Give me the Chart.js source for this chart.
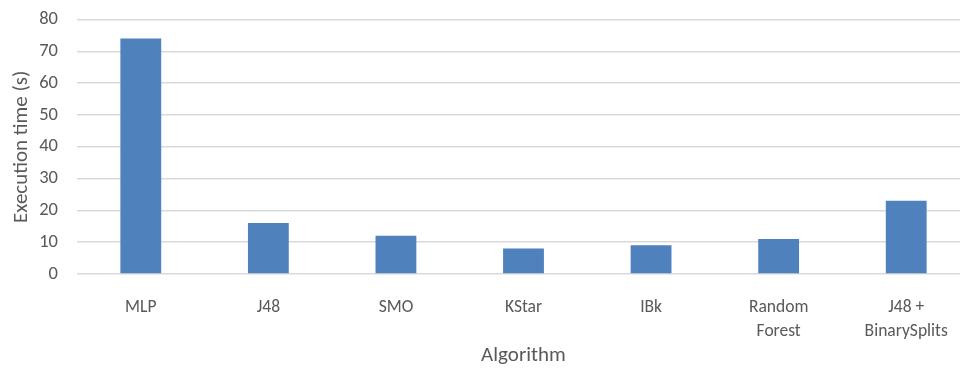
<!DOCTYPE html>
<html>
<head>
<meta charset="utf-8">
<script src="https://cdn.jsdelivr.net/npm/chart.js@4"></script>
<style>
  html, body { margin: 0; padding: 0; background: #fff; overflow: hidden; }
  #wrap { width: 980px; height: 368px; }
</style>
</head>
<body>
<div id="wrap"><canvas id="timeChart" width="980" height="368"></canvas></div>
<script>
const algorithms = ["MLP", "J48", "SMO", "KStar", "IBk", ["Random", "Forest"], ["J48 +", "BinarySplits"]];
const execTimes = [74, 16, 12, 8, 9, 11, 23];
const yTicks = [0, 10, 20, 30, 40, 50, 60, 70, 80];

const textColor = "#595959";
const fontName = "Carlito, Lato, sans-serif";

const ctx = document.getElementById("timeChart").getContext("2d");

new Chart(ctx, {
    type: "bar",
    data: {
        labels: algorithms,
        datasets: [{
            label: "Execution time (s)",
            data: execTimes,
            backgroundColor: "#4F81BD",
            barPercentage: 0.32,
            categoryPercentage: 1
        }]
    },
    options: {
        responsive: false,
        animation: false,
        layout: { padding: { top: 19.5, right: 10, left: 0, bottom: 0 } },
        plugins: {
            legend: { display: false },
            tooltip: { enabled: false }
        },
        scales: {
            x: {
                grid: { display: false, drawTicks: false },
                border: { display: false },
                ticks: {
                    color: textColor,
                    font: { family: fontName, size: 17.5, lineHeight: 1.4 },
                    padding: 21,
                    maxRotation: 0,
                    autoSkip: false
                },
                title: {
                    display: true,
                    text: "Algorithm",
                    color: textColor,
                    font: { family: fontName, size: 21 },
                    padding: { top: 0, bottom: 0 }
                },
                afterFit: function(axis) { axis.height = 94; }
            },
            y: {
                min: 0,
                max: 80,
                afterBuildTicks: function(axis) {
                    axis.ticks = yTicks.map(v => ({ value: v }));
                },
                grid: { color: "#d9d9d9", lineWidth: 1.5, drawTicks: false },
                border: { display: false },
                ticks: {
                    color: textColor,
                    font: { family: fontName, size: 18.5 },
                    padding: 19
                },
                title: {
                    display: true,
                    text: "Execution time (s)",
                    color: textColor,
                    font: { family: fontName, size: 21 },
                    padding: { top: 9, bottom: 0 }
                },
                afterFit: function(axis) {
                    // keep the plot top fixed by the layout padding alone
                    axis.width = 77;
                    axis.paddingTop = 0;
                    axis.paddingBottom = 0;
                }
            }
        }
    }
});
</script>
</body>
</html>
